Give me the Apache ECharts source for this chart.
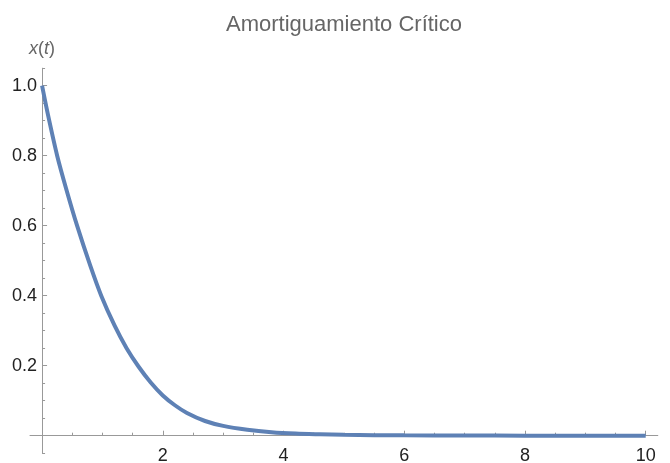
<!DOCTYPE html>
<html>
<head>
<meta charset="utf-8">
<script src="https://cdn.jsdelivr.net/npm/echarts@6/dist/echarts.min.js"></script>
<style>html,body{margin:0;padding:0;background:#fff;}#c{width:670px;height:463px;}</style>
</head>
<body>
<div id="c"></div>
<script>
// Data
const tValues = [0, 0.1, 0.25, 0.4, 0.58, 0.8, 0.98, 1.2, 1.4, 1.6, 1.8, 2.0, 2.2, 2.4, 2.7, 3.0, 3.4, 3.8, 4.2, 4.6, 5, 6, 7, 8, 9, 10];
const xValues = [1.0, 0.915, 0.80, 0.705, 0.60, 0.485, 0.40, 0.315, 0.25, 0.197, 0.152, 0.115, 0.087, 0.065, 0.042, 0.028, 0.017, 0.010, 0.006, 0.004, 0.0025, 0.001, 0.0004, 0.0002, 0.0001, 0];
const xMajorTicks = [2, 4, 6, 8, 10];
const xMinorTicks = [0.5, 1, 1.5, 2.5, 3, 3.5, 4.5, 5, 5.5, 6.5, 7, 7.5, 8.5, 9, 9.5];
const yMajorTicks = [0.2, 0.4, 0.6, 0.8, 1.0];
const yMinorTicks = [-0.05, 0.05, 0.1, 0.15, 0.25, 0.3, 0.35, 0.45, 0.5, 0.55, 0.65, 0.7, 0.75, 0.85, 0.9, 0.95, 1.05];
const titleText = 'Amortiguamiento Crítico';

const points = tValues.map((t, i) => [t, xValues[i]]);
const axisGray = '#999999';
const labelColor = '#222222';
const font = 'Liberation Sans, Arial, sans-serif';

const chart = echarts.init(document.getElementById('c'), null, {renderer: 'canvas'});
chart.setOption({
  animation: false,
  backgroundColor: '#ffffff',
  title: {
    text: titleText,
    left: 221,
    top: 9,
    textStyle: {color: '#666666', fontSize: 22, fontWeight: 'normal', fontFamily: font}
  },
  grid: {left: 30, right: 12.2, top: 68.2, bottom: 9.8, containLabel: false, outerBoundsMode: 'none'},
  xAxis: [{
    type: 'value', min: -0.2, max: 10.2,
    axisLine: {show: true, onZero: true, onZeroAxisIndex: 0, lineStyle: {color: axisGray, width: 1}},
    axisTick: {show: true, inside: true, length: 5, customValues: xMajorTicks, lineStyle: {color: axisGray}},
    axisLabel: {show: true, customValues: xMajorTicks, fontSize: 18, color: labelColor, fontFamily: font, margin: -6.5},
    splitLine: {show: false}
  }, {
    type: 'value', min: -0.2, max: 10.2, position: 'top',
    axisLine: {show: false, onZero: true, onZeroAxisIndex: 0},
    axisTick: {show: true, inside: false, length: 3, customValues: xMinorTicks, lineStyle: {color: axisGray}},
    axisLabel: {show: false},
    splitLine: {show: false}
  }],
  yAxis: [{
    type: 'value', min: -0.05, max: 1.05,
    name: '{i|x}({i|t})',
    nameLocation: 'end',
    nameGap: 10,
    nameTextStyle: {color: '#666666', fontSize: 18, fontFamily: font, align: 'center',
      rich: {i: {fontStyle: 'italic', color: '#666666', fontSize: 18, fontFamily: font}}},
    axisLine: {show: true, onZero: true, onZeroAxisIndex: 0, lineStyle: {color: axisGray, width: 1}},
    axisTick: {show: true, inside: true, length: 5, customValues: yMajorTicks, lineStyle: {color: axisGray}},
    axisLabel: {show: true, customValues: yMajorTicks, fontSize: 18, color: labelColor, fontFamily: font, margin: -7,
      formatter: v => v.toFixed(1)},
    splitLine: {show: false}
  }, {
    type: 'value', min: -0.05, max: 1.05, position: 'right',
    axisLine: {show: false, onZero: true, onZeroAxisIndex: 0},
    axisTick: {show: true, inside: false, length: 3, customValues: yMinorTicks, lineStyle: {color: axisGray}},
    axisLabel: {show: false},
    splitLine: {show: false}
  }],
  series: [{
    type: 'line',
    xAxisIndex: 0, yAxisIndex: 0,
    data: points,
    smooth: 0.3,
    showSymbol: false,
    lineStyle: {color: '#5E81B5', width: 4},
    itemStyle: {color: '#5E81B5'}
  }]
});
</script>
</body>
</html>
